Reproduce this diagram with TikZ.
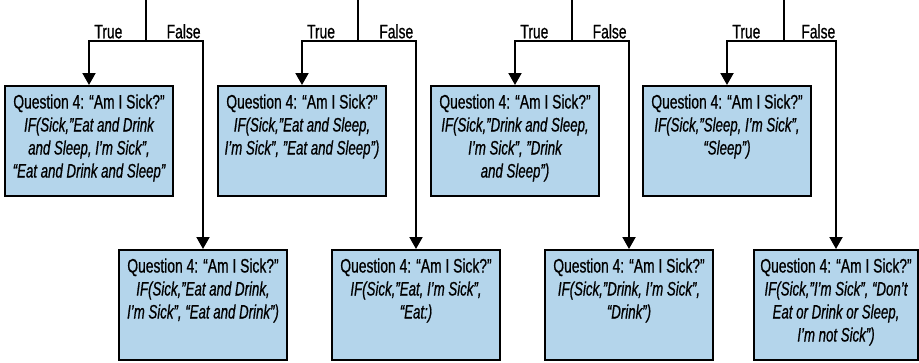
\documentclass[tikz,border=0pt]{standalone}
\usepackage{fontspec}
\setmainfont{Liberation Sans}[FakeStretch=0.71,FakeBold=0.7,ItalicFeatures={FakeStretch=0.68}]
\usetikzlibrary{arrows.meta,positioning}
\definecolor{boxblue}{RGB}{180,213,235}
\tikzset{testbox/.style={rectangle,draw=black,fill=boxblue,line width=2pt,inner xsep=2pt,inner ysep=0pt,font=\fontsize{19.5}{23}\selectfont}}
\tikzset{flowLine/.style={line width=2pt}}
\tikzset{toBox/.style={flowLine,-{Triangle[width=13pt,length=12pt]}}}
\tikzset{branch/.style={above,inner sep=1.5pt,font=\fontsize{19.5}{20}\selectfont}}
\newcommand{\qtext}[2][164pt]{\parbox[c][110pt][t]{#1}{\centering\rule{0pt}{22.5pt}Question 4: “Am I Sick?”\\{\itshape #2}}}

\begin{document}
\begin{tikzpicture}[x=1pt,y=-1pt]
\useasboundingbox (0,0) rectangle (919,362);
\begin{scope}[node distance=52pt]
	\coordinate (in1) at (146,0);
	\coordinate (in2) at (358,0);
	\coordinate (in3) at (572,0);
	\coordinate (in4) at (784,0);
	\coordinate (s1) at (146,41);
	\coordinate (s2) at (358,41);
	\coordinate (s3) at (572,41);
	\coordinate (s4) at (784,41);
	% eat, drink, sleep
	\node (t1) [testbox, anchor=north] at (89,85) {\qtext{IF(Sick,”Eat and Drink\\and Sleep, I’m Sick”,\\“Eat and Drink and Sleep”}};
	\node (f1) [testbox, below=of t1, xshift=114pt] {\qtext{IF(Sick,”Eat and Drink,\\I’m Sick”, “Eat and Drink”)}};
	% eat, sleep
	\node (t2) [testbox, anchor=north] at (302,85) {\qtext{IF(Sick,”Eat and Sleep,\\I’m Sick”, ”Eat and Sleep”)}};
	\node (f2) [testbox, below=of t2, xshift=114pt] {\qtext{IF(Sick,”Eat, I’m Sick”,\\“Eat:)}};
	% drink, sleep
	\node (t3) [testbox, anchor=north] at (515,85) {\qtext{IF(Sick,”Drink and Sleep,\\I’m Sick”, ”Drink\\and Sleep”)}};
	\node (f3) [testbox, below=of t3, xshift=114pt] {\qtext{IF(Sick,”Drink, I’m Sick”,\\“Drink”)}};
	% sleep only
	\node (t4) [testbox, anchor=north] at (727,85) {\qtext{IF(Sick,”Sleep, I’m Sick”,\\“Sleep”)}};
	\node (f4) [testbox, below=of t4, xshift=109pt] {\qtext[160pt]{IF(Sick,”I’m Sick”, “Don’t\\Eat or Drink or Sleep,\\I’m not Sick”)}};
\end{scope}
\draw [flowLine] (in1) -- (s1);
\draw [toBox] (s1) -| node [branch, pos=0.33] {True} (t1.north);
\draw [toBox] (s1) -| node [branch, pos=0.33] {False} (f1.north);
\draw [flowLine] (in2) -- (s2);
\draw [toBox] (s2) -| node [branch, pos=0.33] {True} (t2.north);
\draw [toBox] (s2) -| node [branch, pos=0.33] {False} (f2.north);
\draw [flowLine] (in3) -- (s3);
\draw [toBox] (s3) -| node [branch, pos=0.33] {True} (t3.north);
\draw [toBox] (s3) -| node [branch, pos=0.33] {False} (f3.north);
\draw [flowLine] (in4) -- (s4);
\draw [toBox] (s4) -| node [branch, pos=0.33] {True} (t4.north);
\draw [toBox] (s4) -| node [branch, pos=0.33] {False} (f4.north);
\end{tikzpicture}
\end{document}
